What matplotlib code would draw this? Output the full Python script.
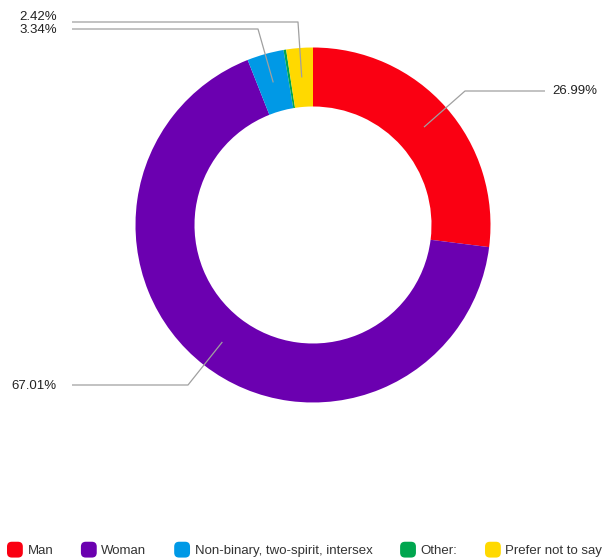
import numpy as np
import matplotlib.pyplot as plt
from matplotlib.patches import FancyBboxPatch
from matplotlib.legend_handler import HandlerPatch

plt.rcParams['font.family'] = ['Liberation Sans', 'DejaVu Sans']

# gender breakdown, percent of respondents
labels = ['Man', 'Woman', 'Non-binary, two-spirit, intersex', 'Other:', 'Prefer not to say']
shares = [26.99, 67.01, 3.34, 0.24, 2.42]
colors = ['#fa0012', '#6b00b0', '#0099e6', '#00a64f', '#ffd900']

W, H = 613, 560
fig = plt.figure(figsize=(W / 100, H / 100), dpi=100)
ax = fig.add_axes([0, 0, 1, 1])

cx, cy = 313, H - 225
r_out, ring = 177.5, 59

wedges, _ = ax.pie(shares, colors=colors, startangle=90, counterclock=False,
                   center=(cx, cy), radius=r_out, frame=True,
                   wedgeprops=dict(width=ring, linewidth=0))
ax.set_xlim(0, W)
ax.set_ylim(0, H)
ax.set_aspect('equal')
ax.axis('off')

# leader lines: (elbow xy, line end x, text xy, text align) in pixel coords from the top
callouts = {
    0: ((465, 91), 545, (552, 91), 'left'),
    1: ((188, 385), 72, (57, 386), 'right'),
    2: ((258, 29), 72, (57, 30), 'right'),
    4: ((298, 22), 72, (57, 17), 'right'),
}
r_mid = r_out - ring / 2
for i, ((ex, ey), lx, (tx, ty), ha) in callouts.items():
    w = wedges[i]
    ang = np.deg2rad((w.theta1 + w.theta2) / 2)
    px, py = cx + r_mid * np.cos(ang), cy + r_mid * np.sin(ang)
    ax.plot([px, ex, lx], [py, H - ey, H - ey], color='#a0a0a0', lw=0.9,
            solid_capstyle='butt', zorder=3)
    ax.text(tx, H - ty, f'{shares[i]:.2f}%', ha=ha, va='center',
            fontsize=9.5, color='#222222')


def rounded_swatch(legend, orig_handle, xdescent, ydescent, width, height, fontsize):
    s = width
    return FancyBboxPatch((-xdescent, -ydescent + (height - s) / 2), s, s,
                          boxstyle='round,pad=0,rounding_size=3.5')


leg = fig.legend(wedges, labels, loc='center left', bbox_to_anchor=(7 / W, 1 - 550 / H),
                 ncol=5, frameon=False, fontsize=9.5, handlelength=1.2, handleheight=1.2,
                 handletextpad=0.35, columnspacing=2.1, borderaxespad=0, borderpad=0,
                 handler_map={w: HandlerPatch(patch_func=rounded_swatch) for w in wedges})
for t in leg.get_texts():
    t.set_color('#333333')

fig.savefig('out.png', dpi=100)
